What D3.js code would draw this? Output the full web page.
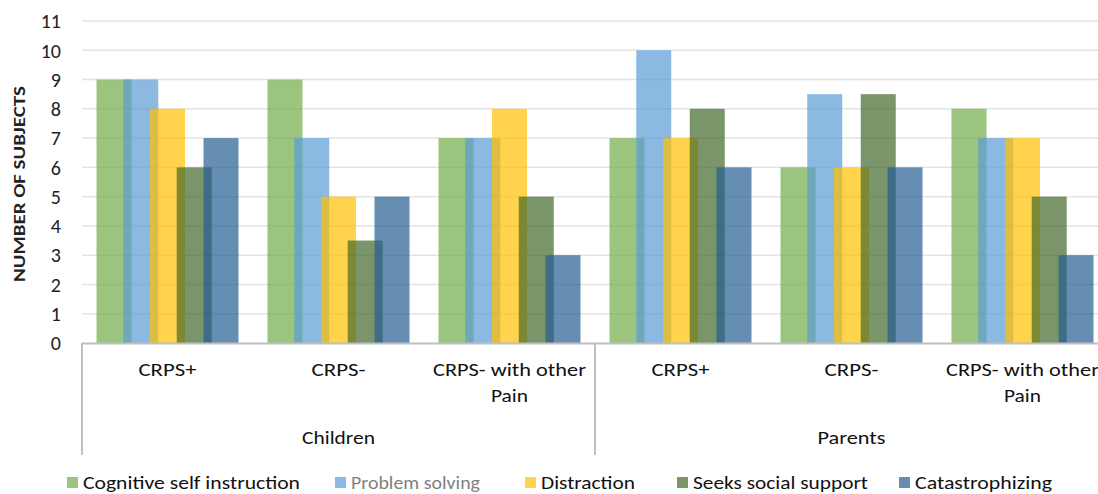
<!DOCTYPE html>
<html>
<head>
<meta charset="utf-8">
<script src="https://cdn.jsdelivr.net/npm/d3@7/dist/d3.min.js"></script>
<style>
  html, body { margin: 0; padding: 0; background: #fff; }
  svg { display: block; font-family: Carlito, Lato, "Open Sans", sans-serif; }
</style>
</head>
<body>
<svg id="chart" width="1098" height="494"></svg>
<script>
// Coping strategies reported, by group and subgroup
const groups = ["Children", "Parents"];
const subgroups = ["CRPS+", "CRPS-", "CRPS- with other Pain"];
const series = ["Cognitive self instruction", "Problem solving", "Distraction", "Seeks social support", "Catastrophizing"];
const seriesColors = ["#70AD47", "#5B9BD5", "#FFC000", "#43682B", "#255E91"];
const yTicks = [0, 1, 2, 3, 4, 5, 6, 7, 8, 9, 10, 11];

// One array per category (group × subgroup), values in series order
const childrenCrpsPlus  = [9, 9, 8, 6, 7];
const childrenCrpsMinus = [9, 7, 5, 3.5, 5];
const childrenOtherPain = [7, 7, 8, 5, 3];
const parentsCrpsPlus   = [7, 10, 7, 8, 6];
const parentsCrpsMinus  = [6, 8.5, 6, 8.5, 6];
const parentsOtherPain  = [8, 7, 7, 5, 3];

const categories = [
  { group: "Children", sub: "CRPS+", values: childrenCrpsPlus },
  { group: "Children", sub: "CRPS-", values: childrenCrpsMinus },
  { group: "Children", sub: "CRPS- with other Pain", values: childrenOtherPain },
  { group: "Parents",  sub: "CRPS+", values: parentsCrpsPlus },
  { group: "Parents",  sub: "CRPS-", values: parentsCrpsMinus },
  { group: "Parents",  sub: "CRPS- with other Pain", values: parentsOtherPain }
];

const svg = d3.select("#chart");
const plotLeft = 82, plotTop = 21, plotBottom = 343, catWidth = 171;

const x0 = d3.scaleBand()
  .domain(d3.range(categories.length))
  .range([plotLeft, plotLeft + catWidth * categories.length])
  .paddingInner(0).paddingOuter(0);

// Bars overlap within a cluster (narrower step than bar width)
const barWidth = 35, barStep = 26.75;
const clusterWidth = barStep * (series.length - 1) + barWidth;
const x1 = d3.scaleLinear()
  .domain([0, series.length - 1])
  .range([(catWidth - clusterWidth) / 2, (catWidth - clusterWidth) / 2 + barStep * (series.length - 1)]);

const y = d3.scaleLinear().domain([0, 11]).range([plotBottom, plotTop]);

// Gridlines
svg.append("g")
  .selectAll("line")
  .data(yTicks.filter(t => t > 0))
  .join("line")
  .attr("x1", plotLeft).attr("x2", 1098)
  .attr("y1", d => y(d)).attr("y2", d => y(d))
  .attr("stroke", "#E4E4E4").attr("stroke-width", 1.5);

// Y tick labels
const yAxis = d3.axisLeft(y).tickValues(yTicks).tickSize(0).tickPadding(0);
const yg = svg.append("g").attr("transform", `translate(${plotLeft - 21},0)`).call(yAxis);
yg.select(".domain").remove();
yg.selectAll("text")
  .attr("font-size", 20)
  .attr("fill", "#222")
  .attr("dy", "0.34em")
  .attr("font-family", "Carlito, Lato, 'Open Sans', sans-serif");

// Y axis title
svg.append("text")
  .attr("transform", `translate(25,${(plotTop + plotBottom) / 2 + 2}) rotate(-90)`)
  .attr("text-anchor", "middle")
  .attr("font-size", 16)
  .attr("font-weight", 600)
  .attr("fill", "#222")
  .attr("textLength", 196)
  .attr("lengthAdjust", "spacingAndGlyphs")
  .text("NUMBER OF SUBJECTS");

// Bars
const cats = svg.append("g")
  .selectAll("g")
  .data(categories)
  .join("g")
  .attr("transform", (d, i) => `translate(${x0(i)},0)`);

cats.selectAll("rect")
  .data(d => d.values.map((v, j) => ({ v, j })))
  .join("rect")
  .attr("x", d => x1(d.j))
  .attr("width", barWidth)
  .attr("y", d => y(d.v))
  .attr("height", d => y(0) - y(d.v))
  .attr("fill", d => seriesColors[d.j])
  .attr("fill-opacity", 0.7);

// Category axis baseline and group separators
const axisColor = "#BFBFBF";
svg.append("line")
  .attr("x1", plotLeft).attr("x2", 1098)
  .attr("y1", plotBottom + 0.5).attr("y2", plotBottom + 0.5)
  .attr("stroke", axisColor).attr("stroke-width", 2);

const separators = [0, 3, 6].map(i => plotLeft + catWidth * i);
svg.append("g")
  .selectAll("line")
  .data(separators)
  .join("line")
  .attr("x1", d => d).attr("x2", d => d)
  .attr("y1", plotBottom).attr("y2", 455)
  .attr("stroke", axisColor).attr("stroke-width", 2);

// Subgroup labels (wrapped)
const wrapLines = s => s === "CRPS- with other Pain" ? ["CRPS- with other", "Pain"] : [s];
const lineWidth = { "CRPS+": 58, "CRPS-": 54, "CRPS- with other": 153, "Pain": 37 };
svg.append("g")
  .selectAll("text")
  .data(categories)
  .join("text")
  .attr("text-anchor", "middle")
  .attr("font-size", 18.5)
  .attr("fill", "#111")
  .each(function(d, i) {
    const cx = x0(i) + x0.bandwidth() / 2;
    d3.select(this).selectAll("tspan")
      .data(wrapLines(d.sub))
      .join("tspan")
      .attr("x", cx)
      .attr("y", (l, k) => 376 + k * 26)
      .attr("textLength", l => lineWidth[l])
      .attr("lengthAdjust", "spacingAndGlyphs")
      .text(l => l);
  });

// Group labels
const groupWidth = { "Children": 73, "Parents": 68 };
svg.append("g")
  .selectAll("text")
  .data(groups)
  .join("text")
  .attr("text-anchor", "middle")
  .attr("font-size", 18.5)
  .attr("fill", "#111")
  .attr("x", (g, k) => x0(k * 3) + catWidth * 1.5)
  .attr("y", 444)
  .attr("textLength", g => groupWidth[g])
  .attr("lengthAdjust", "spacingAndGlyphs")
  .text(g => g);

// Legend
const legendX = [67, 335, 525, 677, 899];
const legendW = [217, 129, 94, 175, 137];
const legend = svg.append("g")
  .selectAll("g")
  .data(series)
  .join("g")
  .attr("transform", (d, i) => `translate(${legendX[i]},477)`);
legend.append("rect")
  .attr("width", 11).attr("height", 11)
  .attr("fill", (d, i) => seriesColors[i]).attr("fill-opacity", 0.7);
legend.append("text")
  .attr("x", 16).attr("y", 12)
  .attr("font-size", 19)
  .attr("fill", (d, i) => i === 1 ? "#7F7F7F" : "#111")
  .attr("textLength", (d, i) => legendW[i])
  .attr("lengthAdjust", "spacingAndGlyphs")
  .text(d => d);
</script>
</body>
</html>
